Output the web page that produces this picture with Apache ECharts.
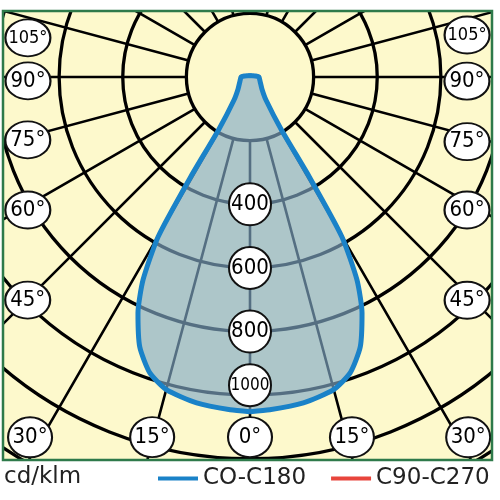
<!DOCTYPE html>
<html><head><meta charset="utf-8">
<script src="https://cdn.jsdelivr.net/npm/echarts@6/dist/echarts.min.js"></script>
<style>html,body{margin:0;padding:0;background:#fff}#c{width:500px;height:500px}</style>
</head><body><div id="c"></div>
<script>
// Light distribution (cd/klm). Half-curve from nadir (0°) to zenith (180°), symmetric.
const curveAngles = [0, 3.4, 9.3, 14.9, 18.7, 22.2, 25.4, 27.8, 29.9, 30.7, 30.8, 34.8, 45, 68, 90, 100, 120, 150, 180];
const c0c180 = [1052, 1048, 1038, 1018, 982, 917, 821, 721, 580, 369, 190, 88, 53, 34, 28, 18, 8, 5, 4];
const c90c270 = [1052, 1048, 1038, 1018, 982, 917, 821, 721, 580, 369, 190, 88, 53, 34, 28, 18, 8, 5, 4];
const ringLabels = [400, 600, 800, 1000];
const angleLabels = ['105°', '90°', '75°', '60°', '45°', '30°', '15°', '0°', '15°', '30°', '45°', '60°', '75°', '90°', '105°'];
const seriesNames = ['CO-C180', 'C90-C270'];
const unitLabel = 'cd/klm';

// label anchor points [radius (cd), angle (deg)] in the polar system
const angleLabelPos = [[709,100],[698,89],[726,74.2],[814,59.1],[990,44.9],[1327,31.4],[1173,15.2],[1132,0],
  [1177,344.2],[1324,328.8],[979,315.8],[800,301.5],[712,286.6],[682,271.1],[695,259.05]];

function fullCurve(vals) {
  const out = [];
  for (let i = 0; i < curveAngles.length; i++) out.push([vals[i], curveAngles[i]]);
  for (let i = curveAngles.length - 2; i >= 0; i--) out.push([vals[i], 360 - curveAngles[i]]);
  return out;
}

const NARROW = "'DejaVu Sans Condensed','Liberation Sans Narrow',sans-serif";
const CENTER = [250, 77];
const R = 509;

const chart = echarts.init(document.getElementById('c'), null, {renderer: 'canvas'});
const hiddenAxis = {axisLine:{show:false}, axisTick:{show:false}, axisLabel:{show:false}, splitLine:{show:false}, splitArea:{show:false}};

chart.setOption({
  backgroundColor: '#fdf9cc',
  animation: false,
  title: {text: unitLabel, left: 4, top: 466, padding: 0, z: 60,
    textStyle: {fontFamily: 'DejaVu Sans', fontSize: 23, fontWeight: 'normal', color: '#222'}},
  legend: {left: 158, top: 467, padding: 0, itemWidth: 40, itemHeight: 4, itemGap: 25, icon: 'rect', z: 60,
    data: seriesNames, textStyle: {fontFamily: 'DejaVu Sans', fontSize: 23, color: '#222'}},
  polar: [
    {center: CENTER, radius: R},
    {center: CENTER, radius: [R / 8, R]}
  ],
  angleAxis: [
    Object.assign({polarIndex: 0, type: 'value', min: 0, max: 360, startAngle: -90, clockwise: true}, hiddenAxis),
    {polarIndex: 1, type: 'value', min: 0, max: 360, interval: 15, startAngle: -90, clockwise: true,
      axisLine: {show: false}, axisTick: {show: false}, axisLabel: {show: false}, splitArea: {show: false},
      splitLine: {show: true, lineStyle: {color: '#000', width: 2.6}}}
  ],
  radiusAxis: [
    Object.assign({polarIndex: 0, type: 'value', min: 0, max: 1600}, hiddenAxis),
    {polarIndex: 1, type: 'value', min: 200, max: 1600, interval: 200,
      axisLine: {show: false}, axisTick: {show: false}, axisLabel: {show: false}, splitArea: {show: false},
      splitLine: {show: true, lineStyle: {color: '#000', width: 3.3}}}
  ],
  graphic: [
    {type: 'rect', z: 50, shape: {x: 0, y: 0, width: 500, height: 10}, style: {fill: '#fff'}},
    {type: 'rect', z: 50, shape: {x: 0, y: 461, width: 500, height: 39}, style: {fill: '#fff'}},
    {type: 'rect', z: 50, shape: {x: 0, y: 0, width: 2, height: 500}, style: {fill: '#fff'}},
    {type: 'rect', z: 50, shape: {x: 493, y: 0, width: 7, height: 500}, style: {fill: '#fff'}},
    {type: 'rect', z: 51, shape: {x: 3, y: 11, width: 489, height: 449}, style: {fill: null, stroke: '#2e7a4a', lineWidth: 2.5}}
  ],
  series: [
    {name: seriesNames[1], type: 'line', coordinateSystem: 'polar', polarIndex: 0, z: 3,
      data: fullCurve(c90c270), symbol: 'none', smooth: 0.2,
      itemStyle: {color: '#e8453c'}, lineStyle: {color: '#e8453c', width: 3.5}},
    {name: seriesNames[0], type: 'line', coordinateSystem: 'polar', polarIndex: 0, z: 4,
      data: fullCurve(c0c180), symbol: 'none', smooth: 0.2,
      itemStyle: {color: '#1a82c8'}, lineStyle: {color: '#1a82c8', width: 5},
      areaStyle: {color: 'rgba(131,170,199,0.65)', opacity: 1}},
    {type: 'scatter', coordinateSystem: 'polar', polarIndex: 0, z: 6, silent: true,
      symbol: 'circle',
      data: ringLabels.map((v, i) => ({value: [v, 0], name: String(v), symbolOffset: i === ringLabels.length - 1 ? [0, -10] : [0, 0],
        label: {fontSize: String(v).length > 3 ? 17 : 22}})),
      symbolSize: [42, 42],
      itemStyle: {color: '#fff', borderColor: '#111', borderWidth: 2, opacity: 1},
      label: {show: true, position: 'inside', formatter: '{b}', fontFamily: NARROW, color: '#000'}},
    {type: 'scatter', coordinateSystem: 'polar', polarIndex: 0, z: 6, silent: true,
      symbol: 'circle',
      data: angleLabels.map((t, i) => ({value: angleLabelPos[i], name: t,
        symbolSize: (angleLabelPos[i][1] < 40 || angleLabelPos[i][1] > 320) ? [44, 40] : [45, 37],
        label: {fontSize: t.length > 3 ? 18 : 22}})),
      itemStyle: {color: '#fff', borderColor: '#111', borderWidth: 2, opacity: 1},
      label: {show: true, position: 'inside', formatter: '{b}', fontFamily: NARROW, color: '#000'}}
  ]
});
</script></body></html>
